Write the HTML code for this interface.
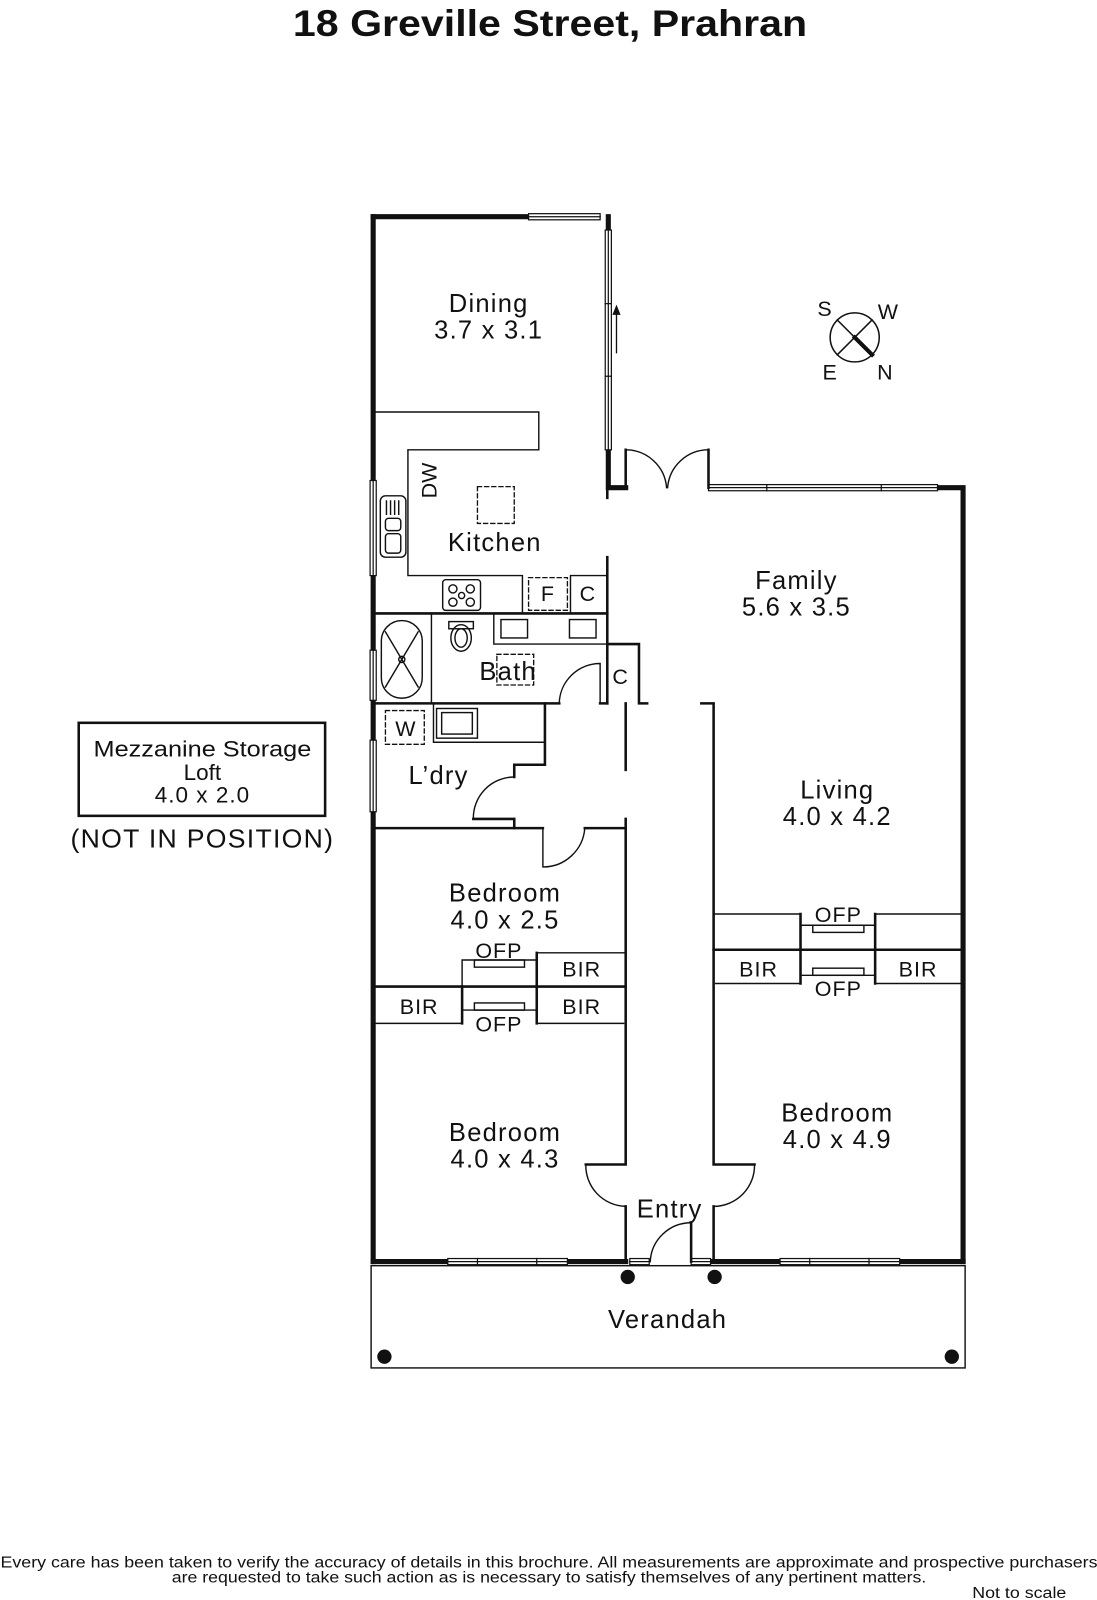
<!DOCTYPE html>
<html><head><meta charset="utf-8"><style>
html,body{margin:0;padding:0;background:#fff;}
svg{display:block;}
text{font-family:"Liberation Sans",sans-serif;fill:#111;}
</style></head><body>
<svg width="1097" height="1600" viewBox="0 0 1073 1565" preserveAspectRatio="none" xmlns="http://www.w3.org/2000/svg">
<rect width="1073" height="1565" fill="#fff"/>
<text x="538" y="35" text-anchor="middle" font-size="36" font-weight="bold" textLength="503" lengthAdjust="spacingAndGlyphs">18 Greville Street, Prahran</text>

<g stroke="#111" fill="none" stroke-linecap="square">
<g stroke-width="5">
<path d="M365 212 V1234"/>
<path d="M365 212 H517"/>
<path d="M595 212 V225 M595 440 V477 H612"/>
<path d="M917 477 H942 V1234"/>
<path d="M365 1234 H438 M555 1234 H612 M695 1234 H763 M880 1234 H942"/>
</g>
<g stroke-width="1.2" fill="#fff">
<rect x="517" y="209" width="70" height="6"/><line x1="517" y1="212" x2="587" y2="212"/>
<rect x="592" y="225" width="6" height="215"/><line x1="595" y1="225" x2="595" y2="440"/><line x1="592" y1="297" x2="598" y2="297"/><line x1="592" y1="368" x2="598" y2="368"/>
<rect x="693" y="474" width="224" height="6"/><line x1="693" y1="477" x2="917" y2="477"/><line x1="750" y1="474" x2="750" y2="480"/><line x1="862" y1="474" x2="862" y2="480"/>
<rect x="362" y="470" width="6" height="93"/><line x1="365" y1="470" x2="365" y2="563"/>
<rect x="362" y="636" width="6" height="49"/><line x1="365" y1="636" x2="365" y2="685"/>
<rect x="362" y="724" width="6" height="70"/><line x1="365" y1="724" x2="365" y2="794"/>
<rect x="438" y="1231" width="117" height="6"/><line x1="438" y1="1234" x2="555" y2="1234"/><line x1="467" y1="1231" x2="467" y2="1237"/><line x1="525" y1="1231" x2="525" y2="1237"/>
<rect x="763" y="1231" width="117" height="6"/><line x1="763" y1="1234" x2="880" y2="1234"/><line x1="792" y1="1231" x2="792" y2="1237"/><line x1="850" y1="1231" x2="850" y2="1237"/>
<rect x="616" y="1231" width="19" height="6"/><line x1="616" y1="1234" x2="635" y2="1234"/>
<rect x="676" y="1231" width="19" height="6"/><line x1="676" y1="1234" x2="695" y2="1234"/>
</g>
<line x1="603" y1="345" x2="603" y2="305" stroke-width="1.3"/>
<path d="M603 298 L599 308 L607 308 Z" fill="#111" stroke="none"/>

<g stroke-width="2.5">
<path d="M612 477 V440 M693 477 V440"/>
<path d="M594 487 V477 M594 545 V688"/>
<path d="M365 600 H594"/>
<path d="M594 630 H625 V688 H633"/>
<path d="M365 688 H547 M587 688 H594"/>
<path d="M612 688 V753 M612 801 V1139 H573 M612 1180 V1234"/>
<path d="M686 688 H698 V1139 H738 M698 1180 V1234"/>
<path d="M533 688 V748 H503 V760"/>
<path d="M365 810 H531 M572 810 H612"/>
<path d="M463 801 H503 V810"/>
<path d="M365 965 H612"/>
<path d="M525 932 V1001 M452 965 V1001"/>
<path d="M698 929 H942"/>
<path d="M783 894 V962 M856 894 V962"/>
<path d="M676 1234 V1196"/>
</g>
<g stroke-width="1.4">
<path d="M612 440 A40 40 0 0 1 652 477"/>
<path d="M693 440 A40 40 0 0 0 653 477"/>
<path d="M587 688 V649 A40 40 0 0 0 547 688"/>
<path d="M503 760 A40 40 0 0 0 463 801"/>
<path d="M531 810 V848 A41 41 0 0 0 572 810"/>
<path d="M573 1139 A40 40 0 0 0 612 1180"/>
<path d="M738 1139 A40 40 0 0 1 698 1180"/>
<path d="M676 1196 A40 40 0 0 0 636 1234"/>
<path d="M367 403 H527 V440 H399 V563 H511 V600"/>
<path d="M558 563 H594 M558 563 V600"/>
<rect x="433" y="567" width="37" height="30" rx="3"/>
<circle cx="443" cy="576" r="4"/><circle cx="460" cy="576" r="4"/><circle cx="443" cy="589" r="4"/><circle cx="460" cy="589" r="4"/><circle cx="451.5" cy="582.5" r="3"/>
<rect x="372" y="485" width="25" height="60" rx="5"/>
<rect x="377" y="507" width="15" height="12" rx="3"/><rect x="377" y="522" width="15" height="19" rx="3"/>
<path d="M378 490 V503 M382 490 V503 M386 490 V503 M390 490 V503"/>
<path d="M422 600 V688"/>
<rect x="373" y="607" width="40" height="76" rx="20"/>
<path d="M377 618 L409 672 M409 618 L377 672"/>
<circle cx="393" cy="645" r="3"/>
<rect x="439" y="608" width="24" height="7"/>
<ellipse cx="451" cy="624" rx="10" ry="13"/><ellipse cx="451" cy="624" rx="6" ry="9"/>
<path d="M483 600 V630 H594"/>
<rect x="490" y="606" width="26" height="18"/><rect x="557" y="606" width="26" height="18"/>
<path d="M424 688 V726 H533"/>
<rect x="427" y="693" width="40" height="29"/><rect x="432" y="697" width="30" height="21"/>
<path d="M525 932 H612"/>
<path d="M452 939 H525 M452 939 V965"/>
<rect x="464" y="939" width="49" height="7"/>
<path d="M452 988 H525"/>
<rect x="464" y="981" width="49" height="7"/>
<path d="M367 1001 H452 M525 1001 H610"/>
<path d="M698 894 H783 M856 894 H942"/>
<path d="M783 905 H856"/>
<rect x="795" y="905" width="50" height="7"/>
<path d="M783 954 H856"/>
<rect x="795" y="947" width="50" height="7"/>
<path d="M700 962 H783 M856 962 H940"/>
<rect x="363" y="1238" width="581" height="100"/>
</g>
<g stroke-width="1.3" stroke-dasharray="4 3">
<rect x="467" y="476" width="36" height="36"/>
<rect x="517" y="565" width="38" height="32"/>
<rect x="486" y="640" width="36" height="30"/>
<rect x="377" y="695" width="38" height="33"/>
</g>
<rect x="77" y="707" width="241" height="91" stroke-width="2.5"/>
<circle cx="836" cy="330" r="24" stroke-width="1.5"/>
<path d="M819 313 L853 347 M853 313 L819 347" stroke-width="1.5"/>
<path d="M836 330 L853 347" stroke-width="4"/>
</g>
<g fill="#111">
<circle cx="376" cy="1327" r="7"/><circle cx="931" cy="1327" r="7"/>
<circle cx="614" cy="1249" r="7"/><circle cx="699" cy="1249" r="7"/>
</g>

<g font-size="25" text-anchor="middle" letter-spacing="1.2">
<text x="478" y="305">Dining</text><text x="478" y="331">3.7 x 3.1</text>
<text x="484" y="539">Kitchen</text>
<text x="779" y="576">Family</text><text x="779" y="602">5.6 x 3.5</text>
<text x="497" y="665">Bath</text>
<text x="429" y="767">L’dry</text>
<text x="819" y="781">Living</text><text x="819" y="807">4.0 x 4.2</text>
<text x="494" y="882">Bedroom</text><text x="494" y="908">4.0 x 2.5</text>
<text x="494" y="1116">Bedroom</text><text x="494" y="1142">4.0 x 4.3</text>
<text x="819" y="1097">Bedroom</text><text x="819" y="1123">4.0 x 4.9</text>
<text x="655" y="1191">Entry</text>
<text x="653" y="1299">Verandah</text>
<text x="198" y="829" textLength="258" lengthAdjust="spacingAndGlyphs">(NOT IN POSITION)</text>
</g>
<g font-size="21" text-anchor="middle" letter-spacing="1">
<text x="536" y="588">F</text><text x="575" y="588">C</text>
<text x="607" y="669">C</text>
<text x="397" y="720">W</text>
<text x="488" y="937">OFP</text><text x="569" y="955">BIR</text>
<text x="410" y="992">BIR</text><text x="569" y="992">BIR</text><text x="488" y="1009">OFP</text>
<text x="820" y="902">OFP</text>
<text x="742" y="955">BIR</text><text x="898" y="955">BIR</text><text x="820" y="974">OFP</text>
<text x="807" y="309">S</text><text x="869" y="312">W</text><text x="812" y="371">E</text><text x="866" y="371">N</text>
</g>
<g font-size="22" text-anchor="middle">
<text x="198" y="740" textLength="213" lengthAdjust="spacingAndGlyphs">Mezzanine Storage</text>
<text x="198" y="763">Loft</text>
<text x="198" y="785" letter-spacing="1">4.0 x 2.0</text>
</g>
<text x="420" y="470" font-size="21" text-anchor="middle" transform="rotate(-90 420 470)" dy="7">DW</text>

<g font-size="15" text-anchor="middle">
<text x="537" y="1533" textLength="1073" lengthAdjust="spacingAndGlyphs">Every care has been taken to verify the accuracy of details in this brochure.  All measurements are approximate and prospective purchasers</text>
<text x="537" y="1548" textLength="738" lengthAdjust="spacingAndGlyphs">are requested to take such action as is necessary to satisfy themselves of any pertinent matters.</text>
<text x="997" y="1563" textLength="92" lengthAdjust="spacingAndGlyphs">Not to scale</text>
</g>
</svg>
</body></html>
